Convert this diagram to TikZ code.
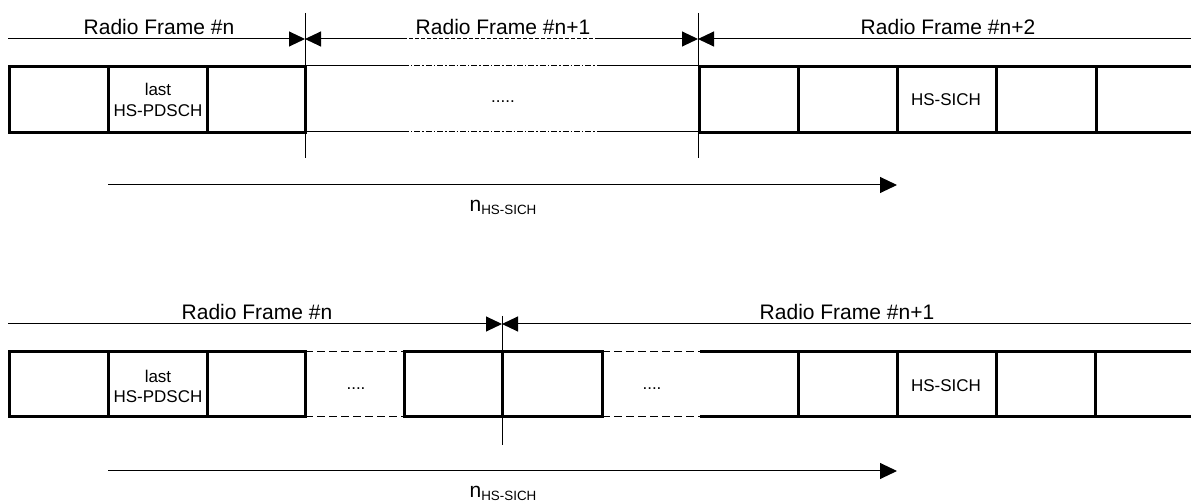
\documentclass[tikz,border=0pt]{standalone}
\usepackage{fontspec}
\setmainfont{Liberation Sans}
\usetikzlibrary{arrows.meta}

\begin{document}
\begin{tikzpicture}[x=0.5pt, y=-0.5pt,
  thinline/.style={line width=0.5pt, color=black},
  slot/.style={line width=1.5pt, color=black},
  endtip/.style={-{Triangle[length=8pt,width=7.5pt]}},
  starttip/.style={{Triangle[length=8pt,width=7.5pt]}-},
  gapline/.style={thinline, dash pattern=on 4pt off 2pt},
  dotline/.style={thinline, dash pattern=on 3pt off 1pt on 0.7pt off 1pt},
  smalldash/.style={thinline, dash pattern=on 2pt off 1pt},
  flabel/.style={font=\fontsize{10.5pt}{12pt}\selectfont, anchor=base, inner sep=0pt},
  slabel/.style={font=\fontsize{8.5pt}{10pt}\selectfont, align=center, inner sep=0pt},
  delay/.style={thinline, -{Triangle[length=8.5pt,width=8pt]}}
]
\useasboundingbox (0,0) rectangle (1191,502);

% ---- upper case: HS-SICH two frames later
\node[flabel] (fa)  at (159,35) {Radio Frame \#n};
\node[flabel] (fb)  at (503,35) {Radio Frame \#n+1};
\node[flabel] (fc)  at (948,35) {Radio Frame \#n+2};

\coordinate (a0) at (8,39);
\coordinate (a1) at (305,39);
\coordinate (a2) at (698,39);
\coordinate (a3) at (1191,39);
\coordinate (b1) at (403,39);
\coordinate (b2) at (598,39);

\draw[thinline] (305,13) -- (305,158);
\draw[thinline] (698,13) -- (698,158);
\draw[thinline, endtip]   (a0) -- (a1);
\draw[thinline, starttip] (a1) -- (b1);
\draw[smalldash]          (b1) -- (b2);
\draw[thinline, endtip]   (b2) -- (a2);
\draw[thinline, starttip] (a2) -- (a3);

\draw[slot] (9,67) rectangle (305,133);
\foreach \x in {108,207}
  \draw[slot] (\x,67) -- (\x,133);
\draw[slot] (1191,67) -- (699,67) -- (699,133) -- (1191,133);
\foreach \x in {798,897,996,1096}
  \draw[slot] (\x,67) -- (\x,133);
\foreach \y in {66,132} {
  \draw[thinline] (305,\y) -- (403,\y);
  \draw[dotline]  (403,\y) -- (600,\y);
  \draw[thinline] (600,\y) -- (698,\y);
}

\node[slabel] (lasta) at (158,89)  {last};
\node[slabel] (pdsa)  at (158,111) {HS-PDSCH};
\node[slabel] (gapa)  at (503,102) {.....};
\node[slabel] (sicha) at (946,100) {HS-SICH};

\coordinate (da0) at (108,185);
\coordinate (da1) at (897,185);
\draw[delay] (da0) -- (da1);
\node[flabel] (na) at (503,212) {n\raisebox{-1.5pt}{\fontsize{6.7pt}{8pt}\selectfont HS-SICH}};

% ---- lower case: HS-SICH in the next frame
\node[flabel] (fd) at (257,320) {Radio Frame \#n};
\node[flabel] (fe) at (847,320) {Radio Frame \#n+1};

\coordinate (c0) at (8,324);
\coordinate (c1) at (502,324);
\coordinate (c2) at (1191,324);
\draw[thinline] (502,316) -- (502,445);
\draw[thinline, endtip]   (c0) -- (c1);
\draw[thinline, starttip] (c1) -- (c2);

\draw[slot] (9,352) rectangle (305,417);
\foreach \x in {108,207}
  \draw[slot] (\x,352) -- (\x,417);
\draw[slot] (404,352) rectangle (602,417);
\draw[slot] (502,352) -- (502,417);
\draw[slot] (1191,352) -- (700,352);
\draw[slot] (700,417) -- (1191,417);
\foreach \x in {798,897,996,1095}
  \draw[slot] (\x,352) -- (\x,417);
\foreach \y in {352,417} {
  \draw[gapline] (305,\y) -- (404,\y);
  \draw[gapline] (602,\y) -- (700,\y);
}

\node[slabel] (lastb) at (158,376) {last};
\node[slabel] (pdsb)  at (158,397) {HS-PDSCH};
\node[slabel] (gapb)  at (356,389) {....};
\node[slabel] (gapc)  at (652,389) {....};
\node[slabel] (sichb) at (946,386) {HS-SICH};

\coordinate (db0) at (108,471);
\coordinate (db1) at (897,471);
\draw[delay] (db0) -- (db1);
\node[flabel] (nb) at (503,498) {n\raisebox{-1.5pt}{\fontsize{6.7pt}{8pt}\selectfont HS-SICH}};

\end{tikzpicture}
\end{document}
